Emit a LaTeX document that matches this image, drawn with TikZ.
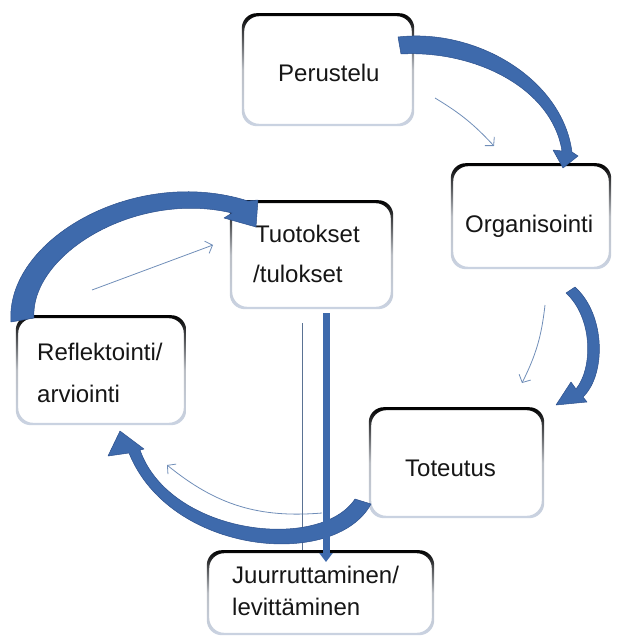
\documentclass[tikz,border=0pt]{standalone}
\usepackage{fontspec}
\setmainfont{Liberation Sans}
\usetikzlibrary{arrows.meta,calc}

\definecolor{flowblue}{RGB}{62,106,172}
\definecolor{flowedge}{RGB}{44,80,140}
\definecolor{thinblue}{RGB}{112,142,184}
\definecolor{rimlight}{RGB}{202,211,226}
\definecolor{inktext}{RGB}{22,22,22}

\begin{document}
\begin{tikzpicture}[x=1pt,y=-1pt,
  stage/.style={rectangle, rounded corners=14pt, fill=white, outer sep=0pt, inner sep=0pt},
  boxtext/.style={anchor=base west, inner sep=0pt, font=\fontsize{24}{28}\selectfont, text=inktext},
  bigflow/.style={fill=flowblue, draw=flowedge, line width=0.5pt, line join=round},
  thinflow/.style={draw=thinblue, line width=0.8pt, -{Straight Barb[length=6pt,width=13pt]}},
]
\useasboundingbox (0,0) rectangle (616,636);

% stages of the cycle
\node[stage, minimum width=170pt, minimum height=110pt]   (per) at (328,70)    {};
\node[stage, minimum width=158pt, minimum height=103pt]   (org) at (531,216.5) {};
\node[stage, minimum width=161pt, minimum height=106pt]   (tuo) at (311.5,255) {};
\node[stage, minimum width=168pt, minimum height=107pt]   (ref) at (101,370.5) {};
\node[stage, minimum width=173pt, minimum height=108pt]   (tot) at (456.5,463) {};
\node[stage, minimum width=225pt, minimum height=82pt]    (juu) at (320.5,593) {};

% frames: dark along the top, fading to a pale rim below
\foreach \b in {per,org,tuo,ref,tot,juu}{
  \shade[top color=black, bottom color=rimlight, middle color=rimlight!70!black!60,
         even odd rule, rounded corners=15pt]
    ($(\b.north west)+(-1.2,-1.8)$) rectangle ($(\b.south east)+(1.2,1.2)$)
    ($(\b.north west)+(1.2,1.2)$) rectangle ($(\b.south east)+(-1.2,-1.2)$);
}

% labels
\node[boxtext] (per-t)  at (278,82)  {Perustelu};
\node[boxtext] (org-t)  at (465,233) {Organisointi};
\node[boxtext] (tuo-t1) at (255,242) {Tuotokset};
\node[boxtext] (tuo-t2) at (253,282) {/tulokset};
\node[boxtext] (ref-t1) at (37,360)  {Reflektointi/};
\node[boxtext] (ref-t2) at (37,402)  {arviointi};
\node[boxtext] (tot-t)  at (405,476) {Toteutus};
\node[boxtext] (juu-t1) at (232,583) {Juurruttaminen/};
\node[boxtext] (juu-t2) at (232,615) {levittäminen};

% thin connectors
\coordinate (p1) at (435,98);  \coordinate (q1) at (494,146);
\coordinate (p2) at (545,305); \coordinate (q2) at (522,383);
\coordinate (p3) at (322,513); \coordinate (q3) at (167,465);
\coordinate (p4) at (92,290);  \coordinate (q4) at (213,245);
\draw[thinflow] (p1) to[bend left=8]  (q1);
\draw[thinflow] (p2) to[bend left=10] (q2);
\draw[thinflow] (p3) to[bend left=22] (q3);
\draw[thinflow] (p4) -- (q4);
\draw[draw=thinblue!80!black, line width=0.8pt]
  ($(tuo.south)+(-9.5,15)$) -- ($(juu.north)+(-18.5,-2)$);

% broad curved arrows between the stages
% Perustelu -> Organisointi
\fill[bigflow] (398,37) .. controls (475,28) and (562,78) .. (572,152)
  -- (578,156) -- (563,168) -- (553,150) -- (562,151)
  .. controls (552,88) and (475,50) .. (401,54) -- cycle;
% Organisointi -> Toteutus
\fill[bigflow] (566,293) -- (575,287) .. controls (606,315) and (606,375) .. (583,397)
  -- (587,402) -- (556,405) -- (571,382) -- (576,389)
  .. controls (593,368) and (593,318) .. (566,293) -- cycle;
% Toteutus -> Reflektointi
\fill[bigflow] (355,499) -- (371,504) .. controls (335,570) and (170,555) .. (129,453)
  -- (108,456) -- (120,431) -- (144,449) -- (140,450)
  .. controls (170,535) and (320,552) .. (355,499) -- cycle;
% Reflektointi -> Tuotokset
\fill[bigflow] (11,322) .. controls (5,240) and (135,165) .. (248,201)
  -- (258,200) -- (256,227) -- (224,218) -- (232,213)
  .. controls (135,190) and (30,255) .. (34,318) -- cycle;
% Tuotokset -> Juurruttaminen
\draw[draw=flowblue, line width=7pt, -{Triangle[width=13pt,length=9pt]}]
  ($(tuo.south)+(14.5,5)$) -- ($(juu.north)+(5.5,10)$);

\end{tikzpicture}
\end{document}
